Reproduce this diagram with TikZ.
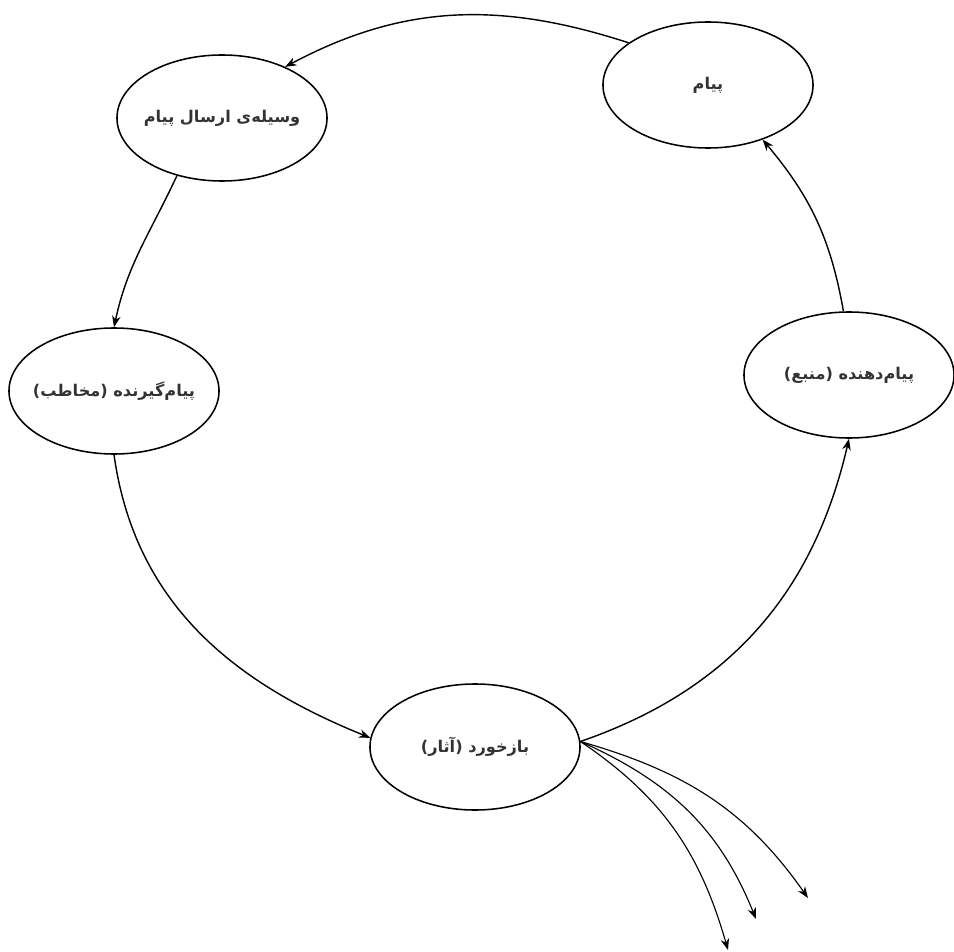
\documentclass[tikz,border=0pt]{standalone}
\usepackage{fontspec}
\usepackage{tikz}
\usetikzlibrary{arrows.meta,shapes.geometric}
\newfontfamily\arabicfont[Script=Arabic]{DejaVu Sans}
\TeXXeTstate=1
\newcommand{\fatext}[1]{{\arabicfont\bfseries\beginR #1\endR}}
\tikzset{stage/.style={draw, line width=1.1pt, ellipse, minimum width=5.25cm,
    minimum height=3.15cm, inner sep=-0.4cm, text=black!80,
    font=\fontsize{11.5}{13}\selectfont}}

\begin{document}
\begin{tikzpicture}[x=0.025cm, y=0.025cm,
    >={Stealth[length=8pt, width=6pt, inset=2.5pt]}]
  \useasboundingbox (0,0) rectangle (954,-952);
  \node [stage] (msg) at (708,-85) {\fatext{پیام}};
  \node [stage] (medium) at (222,-118) {\fatext{وسیله‌ی ارسال پیام}};
  \node [stage] (receiver) at (114,-391) {\fatext{پیام‌گیرنده (مخاطب)}};
  \node [stage] (feedback) at (475,-747) {\fatext{بازخورد (آثار)}};
  \node [stage] (source) at (849,-375) {\fatext{پیام‌دهنده (منبع)}};
  \coordinate (e1) at (808,-898);
  \coordinate (e2) at (756,-919);
  \coordinate (e3) at (728,-950);
  \draw [->, line width=1pt] (msg.152) to [out = 162, in = 28] (medium.39);
  \draw [->, line width=1pt] (medium.232) to [out = 245, in = 78] (receiver.90);
  \draw [->, line width=1pt] (receiver.270) to [out = -82, in = 158] (feedback.175);
  \draw [->, line width=1pt] (feedback.3) to [out = 19, in = -103] (source.270);
  \draw [->, line width=1pt] (source.95) to [out = 100, in = -50] (msg.-45);
  \draw [->, line width=0.8pt] (feedback.3) to [out = -16, in = 125] (e1);
  \draw [->, line width=0.8pt] (feedback.3) to [out = -24, in = 112] (e2);
  \draw [->, line width=0.8pt] (feedback.3) to [out = -34, in = 106] (e3);
\end{tikzpicture}
\end{document}
